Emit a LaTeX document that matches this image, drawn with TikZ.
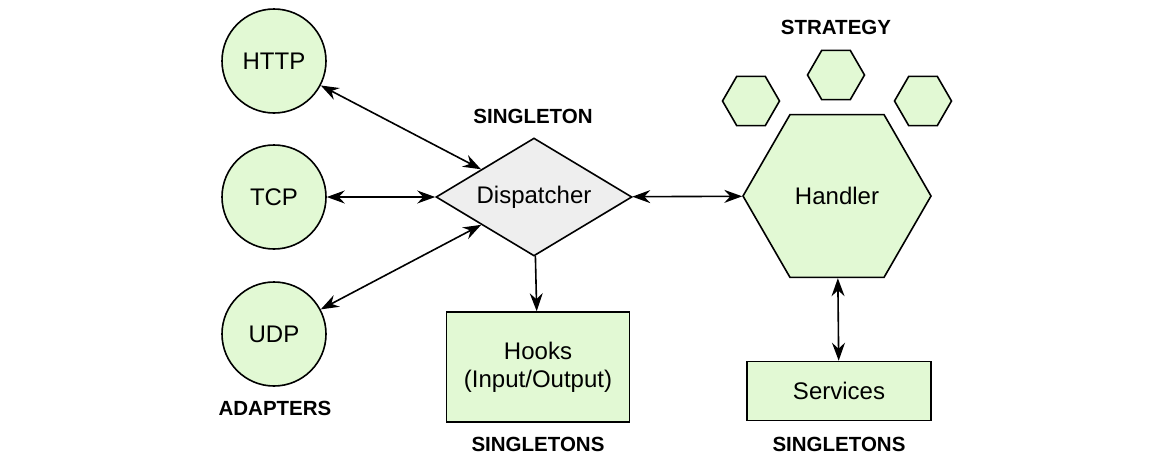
\documentclass[tikz,border=0pt]{standalone}
\usepackage{fontspec}
\setmainfont{Liberation Sans}
\usetikzlibrary{arrows.meta,shapes.geometric,positioning}
\definecolor{paleGreen}{HTML}{E2F9D4}
\definecolor{paleGrey}{HTML}{EEEEEE}
\tikzset{
  adapter/.style={circle, draw, line width=1.6pt, fill=paleGreen, minimum size=104pt, inner sep=0pt, font=\fontsize{24}{28}\selectfont},
  singlebox/.style={rectangle, draw, line width=1.6pt, fill=paleGreen, inner sep=0pt, align=center, font=\fontsize{24}{28}\selectfont},
  hexa/.style={regular polygon, regular polygon sides=6, draw, line width=1.6pt, fill=paleGreen, inner sep=0pt},
  tag/.style={font=\bfseries\fontsize{20.5}{24}\selectfont},
  link/.style={line width=1.6pt, {Stealth[length=18pt,width=13pt,inset=6pt]}-{Stealth[length=18pt,width=13pt,inset=6pt]}},
  onelink/.style={line width=1.6pt, -{Stealth[length=18pt,width=13pt,inset=6pt]}}
}
\begin{document}
\begin{tikzpicture}[x=1pt, y=-1pt]
\useasboundingbox (0,0) rectangle (1168,472);
% adapters
\node[adapter] (http) at (274,61) {HTTP};
\node[adapter] (tcp) at (274,197) {TCP};
\node[adapter] (udp) at (274,334) {UDP};
\node[tag] (adapters) at (275,408) {ADAPTERS};
% dispatcher
\node[diamond, aspect=1.66, draw, line width=1.6pt, fill=paleGrey, minimum width=196pt, minimum height=118pt, inner sep=0pt, font=\fontsize{24}{28}\selectfont] (disp) at (534,197) {Dispatcher};
\node[tag] (singleton) at (533,116) {SINGLETON};
% hooks
\node[singlebox, minimum width=183pt, minimum height=110pt] (hooks) at (538,367) {Hooks\\(Input/Output)};
\node[tag] (hooktag) at (538,444) {SINGLETONS};
% handler + strategies
\node[hexa, minimum size=188pt, font=\fontsize{24}{28}\selectfont] (handler) at (837,196) {Handler};
\node[hexa, minimum size=57pt] (strat1) at (751,101) {};
\node[hexa, minimum size=57pt] (strat2) at (836,75) {};
\node[hexa, minimum size=57pt] (strat3) at (923,101) {};
\node[tag] (strategy) at (836,27) {STRATEGY};
% services
\node[singlebox, minimum width=184pt, minimum height=59pt] (services) at (839,391) {Services};
\node[tag] (servtag) at (839,444) {SINGLETONS};
% connectors
\draw[link] (http) -- (disp);
\draw[link] (tcp) -- (disp);
\draw[link] (udp) -- (disp);
\draw[onelink] (disp) -- (hooks);
\draw[link] (disp) -- (handler);
\draw[link] (handler) -- (services);
\end{tikzpicture}
\end{document}
